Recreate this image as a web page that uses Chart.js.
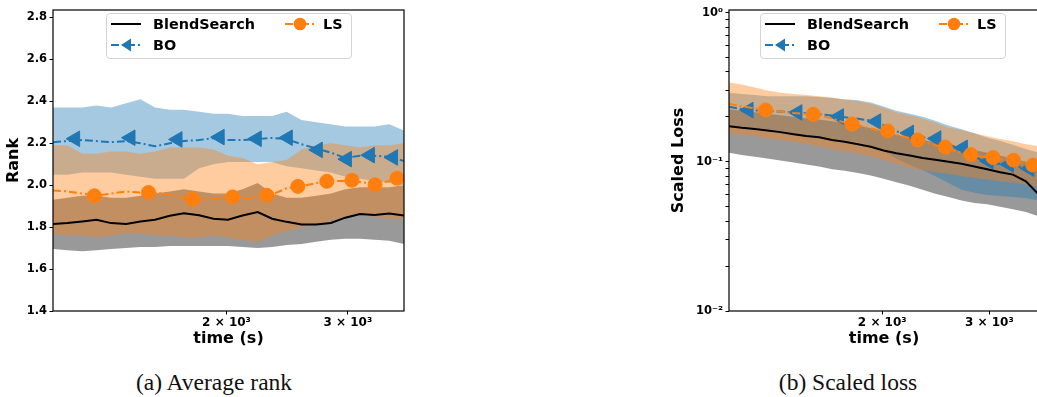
<!DOCTYPE html>
<html>
<head>
<meta charset="utf-8">
<script src="https://cdn.jsdelivr.net/npm/chart.js@4.4.0/dist/chart.umd.min.js"></script>
<style>
  html, body { margin: 0; padding: 0; background: #fff; }
  body { width: 1037px; height: 397px; overflow: hidden; position: relative; font-family: 'DejaVu Sans', sans-serif; }
  canvas { position: absolute; top: 0; }
  .legend { position: absolute; top: 13px; width: 246px; height: 46px; box-sizing: border-box;
            border: 1px solid #d4d4d4; border-radius: 4px; background: rgba(255,255,255,0.8); }
  .legend span { position: absolute; font-weight: bold; font-size: 14.4px; line-height: 18px; color: #000; white-space: nowrap; }
  .legend svg { position: absolute; overflow: visible; }
  .caption { position: absolute; top: 369px; font-family: 'Liberation Serif', serif; font-size: 23.5px;
             color: #111; transform: translateX(-50%); white-space: nowrap; }
</style>
</head>
<body>
<canvas id="rankChart" width="420" height="350" style="left:0px"></canvas>
<canvas id="lossChart" width="390" height="350" style="left:665px"></canvas>
<div class="caption" style="left:214px">(a) Average rank</div>
<div class="caption" style="left:848px">(b) Scaled loss</div>
<script>
// 공통 시간 축 (s)
const time = [1120, 1175, 1235, 1295, 1360, 1430, 1500, 1575, 1655, 1735, 1825, 1915, 2010,
              2110, 2220, 2330, 2445, 2570, 2700, 2835, 2975, 3125, 3280, 3445, 3620];
const timeTicks = [2000, 3000];
const timeTickLabels = ['2 × 10³', '3 × 10³'];

// 마커 위치
const boMarkTime = [1206, 1451, 1698, 1955, 2213, 2455, 2714, 2991, 3230, 3490];
const lsMarkTime = [1286, 1541, 1785, 2041, 2288, 2539, 2797, 3042, 3286, 3537];

// (a) Average rank
const rankTicks = [1.4, 1.6, 1.8, 2.0, 2.2, 2.4, 2.6, 2.8];
const bsRank   = [1.815, 1.819, 1.827, 1.835, 1.819, 1.815, 1.827, 1.835, 1.854, 1.866, 1.856, 1.840, 1.835,
                  1.855, 1.872, 1.840, 1.825, 1.812, 1.812, 1.820, 1.845, 1.862, 1.858, 1.865, 1.855];
const bsRankLo = [1.695, 1.69, 1.685, 1.69, 1.695, 1.70, 1.705, 1.705, 1.71, 1.71, 1.71, 1.71, 1.71,
                  1.705, 1.70, 1.705, 1.715, 1.72, 1.73, 1.74, 1.745, 1.745, 1.74, 1.735, 1.72];
const bsRankHi = [1.93, 1.94, 1.95, 1.95, 1.94, 1.94, 1.95, 1.96, 1.97, 1.98, 1.97, 1.96, 1.96,
                  1.98, 2.01, 1.96, 1.94, 1.94, 1.95, 1.96, 1.98, 1.99, 1.99, 1.99, 2.00];
const boRank   = [2.205, 2.21, 2.215, 2.21, 2.205, 2.21, 2.20, 2.185, 2.20, 2.21, 2.215, 2.225, 2.215,
                  2.215, 2.22, 2.225, 2.22, 2.195, 2.175, 2.155, 2.13, 2.14, 2.14, 2.135, 2.115];
const boRankLo = [2.05, 2.05, 2.06, 2.06, 2.06, 2.05, 2.04, 2.03, 2.03, 2.03, 2.08, 2.10, 2.11,
                  2.11, 2.11, 2.11, 2.09, 2.08, 2.07, 2.06, 2.04, 2.03, 2.02, 2.01, 2.00];
const boRankHi = [2.37, 2.37, 2.37, 2.38, 2.37, 2.39, 2.41, 2.37, 2.36, 2.36, 2.35, 2.34, 2.34,
                  2.33, 2.33, 2.33, 2.35, 2.31, 2.30, 2.29, 2.28, 2.28, 2.28, 2.29, 2.26];
const lsRank   = [1.975, 1.97, 1.96, 1.95, 1.96, 1.97, 1.965, 1.965, 1.955, 1.94, 1.93, 1.935, 1.945,
                  1.935, 1.945, 1.955, 1.985, 1.995, 2.01, 2.02, 2.02, 2.015, 2.005, 2.02, 2.035];
const lsRankLo = [1.77, 1.76, 1.76, 1.75, 1.76, 1.77, 1.77, 1.76, 1.76, 1.75, 1.75, 1.76, 1.75,
                  1.74, 1.73, 1.76, 1.78, 1.80, 1.81, 1.83, 1.85, 1.86, 1.85, 1.84, 1.84];
const lsRankHi = [2.19, 2.19, 2.15, 2.15, 2.16, 2.16, 2.15, 2.16, 2.18, 2.18, 2.18, 2.17, 2.14,
                  2.13, 2.10, 2.11, 2.12, 2.17, 2.19, 2.20, 2.19, 2.18, 2.19, 2.19, 2.20];
const boRankMark = [2.221, 2.226, 2.218, 2.229, 2.221, 2.226, 2.168, 2.124, 2.143, 2.132];
const lsRankMark = [1.949, 1.965, 1.933, 1.944, 1.952, 1.994, 2.018, 2.023, 2.002, 2.033];

// (b) Scaled loss
const lossTicks = [0.01, 0.1, 1];
const lossTickLabels = ['10⁻²', '10⁻¹', '10⁰'];
const lossMinor = [0.02, 0.03, 0.04, 0.05, 0.06, 0.07, 0.08, 0.09, 0.2, 0.3, 0.4, 0.5, 0.6, 0.7, 0.8, 0.9];
const bsLoss   = [0.173, 0.169, 0.166, 0.162, 0.158, 0.153, 0.149, 0.146, 0.140, 0.136, 0.131, 0.126, 0.119,
                  0.114, 0.110, 0.106, 0.103, 0.100, 0.097, 0.093, 0.089, 0.085, 0.082, 0.074, 0.060];
const bsLossLo = [0.115, 0.111, 0.108, 0.105, 0.102, 0.099, 0.096, 0.093, 0.089, 0.087, 0.084, 0.081, 0.077,
                  0.073, 0.069, 0.065, 0.061, 0.058, 0.055, 0.053, 0.052, 0.050, 0.048, 0.046, 0.043];
const bsLossHi = [0.225, 0.22, 0.215, 0.21, 0.205, 0.2, 0.196, 0.192, 0.187, 0.182, 0.176, 0.168, 0.16,
                  0.152, 0.146, 0.14, 0.135, 0.13, 0.125, 0.12, 0.115, 0.11, 0.105, 0.1, 0.09];
const boLoss   = [0.234, 0.225, 0.221, 0.219, 0.217, 0.215, 0.212, 0.208, 0.204, 0.199, 0.194, 0.189, 0.176,
                  0.160, 0.151, 0.146, 0.141, 0.131, 0.121, 0.108, 0.099, 0.097, 0.094, 0.090, 0.085];
const boLossLo = [0.175, 0.17, 0.166, 0.162, 0.158, 0.154, 0.15, 0.147, 0.143, 0.139, 0.135, 0.128, 0.118,
                  0.105, 0.095, 0.088, 0.080, 0.072, 0.065, 0.062, 0.060, 0.059, 0.058, 0.057, 0.055];
const boLossHi = [0.29, 0.285, 0.28, 0.275, 0.275, 0.275, 0.275, 0.272, 0.268, 0.262, 0.258, 0.25, 0.235,
                  0.22, 0.21, 0.2, 0.188, 0.175, 0.165, 0.155, 0.145, 0.138, 0.13, 0.122, 0.115];
const lsLoss   = [0.245, 0.235, 0.228, 0.222, 0.217, 0.212, 0.209, 0.205, 0.195, 0.183, 0.176, 0.167, 0.160,
                  0.152, 0.144, 0.137, 0.129, 0.122, 0.115, 0.110, 0.107, 0.104, 0.1025, 0.097, 0.094];
const lsLossLo = [0.155, 0.152, 0.148, 0.144, 0.14, 0.136, 0.132, 0.127, 0.122, 0.117, 0.113, 0.109, 0.103,
                  0.097, 0.091, 0.088, 0.085, 0.083, 0.08, 0.078, 0.076, 0.074, 0.073, 0.07, 0.068];
const lsLossHi = [0.34, 0.33, 0.315, 0.30, 0.29, 0.285, 0.28, 0.275, 0.27, 0.26, 0.255, 0.245, 0.23,
                  0.215, 0.205, 0.195, 0.183, 0.17, 0.163, 0.155, 0.148, 0.142, 0.137, 0.131, 0.127];
const boLossMark = [0.222, 0.214, 0.201, 0.186, 0.156, 0.143, 0.124, 0.101, 0.096, 0.090];
const lsLossMark = [0.2224, 0.208, 0.179, 0.161, 0.140, 0.1256, 0.112, 0.1067, 0.1025, 0.095];

const BLUE = '#1f77b4';
const ORANGE = '#ff7f0e';
const FONT = 'DejaVu Sans';
const DASHDOT = [8, 3, 2, 3];

function pts(xs, ys) {
  return xs.map(function (x, i) { return { x: x, y: ys[i] }; });
}

// 평균 ± 범위 영역 (order 가 클수록 먼저 그려짐)
function band(hi, lo, color, order) {
  return [
    { data: pts(time, hi), borderColor: 'transparent', borderWidth: 0, pointRadius: 0,
      fill: '+1', backgroundColor: color, order: order },
    { data: pts(time, lo), borderColor: 'transparent', borderWidth: 0, pointRadius: 0,
      fill: false, order: order },
  ];
}

function line(ys, color, dash, order) {
  return { data: pts(time, ys), borderColor: color, borderWidth: 2, borderDash: dash,
           pointRadius: 0, fill: false, tension: 0, order: order };
}

function markers(xs, ys, color, style, radius, order) {
  return { data: pts(xs, ys), showLine: false, pointStyle: style,
           pointRotation: style === 'triangle' ? -90 : 0, pointRadius: radius,
           pointBackgroundColor: color, pointBorderColor: color, pointBorderWidth: 1, order: order };
}

function buildDatasets(bs, bsLo, bsHi, bo, boLo, boHi, ls, lsLo, lsHi, boMark, lsMark) {
  return []
    .concat(band(bsHi, bsLo, 'rgba(0, 0, 0, 0.4)', 12))
    .concat(band(boHi, boLo, 'rgba(31, 119, 180, 0.4)', 11))
    .concat(band(lsHi, lsLo, 'rgba(255, 127, 14, 0.4)', 10))
    .concat([
      line(bs, '#000', [], 4),
      line(bo, BLUE, DASHDOT, 3),
      markers(boMarkTime, boMark, BLUE, 'triangle', 9, 2),
      line(ls, ORANGE, DASHDOT, 1),
      markers(lsMarkTime, lsMark, ORANGE, 'circle', 7, 0),
    ]);
}

// 축 테두리 (네 면)
const framePlugin = {
  id: 'frame',
  afterDraw(chart) {
    const ctx = chart.ctx;
    const a = chart.chartArea;
    ctx.save();
    ctx.strokeStyle = '#000';
    ctx.lineWidth = 1.2;
    ctx.strokeRect(a.left, a.top, a.right - a.left, a.bottom - a.top);
    ctx.restore();
  },
};

const tickGrid = {
  display: true, drawOnChartArea: false, drawTicks: true,
  tickLength: 3.5, tickColor: '#000', tickWidth: 1,
};

function xScale() {
  return {
    type: 'logarithmic',
    min: 1120,
    max: 3620,
    grid: tickGrid,
    border: { display: false },
    afterBuildTicks: function (s) { s.ticks = timeTicks.map(function (v) { return { value: v }; }); },
    afterFit: function (s) { s.height = 39; s.paddingLeft = 0; s.paddingRight = 0; },
    ticks: {
      autoSkip: false, maxRotation: 0, padding: 1, color: '#000',
      font: { family: FONT, size: 12, weight: 'bold' },
      callback: function (v) { return timeTickLabels[timeTicks.indexOf(v)]; },
    },
    title: { display: true, text: 'time (s)', color: '#000', padding: { top: 2, bottom: 2 },
             font: { family: FONT, size: 16, weight: 'bold' } },
  };
}

function yTitle(text) {
  return { display: true, text: text, color: '#000', padding: { top: 4, bottom: 4 },
           font: { family: FONT, size: 16, weight: 'bold' } };
}

const rankChart = new Chart(document.getElementById('rankChart'), {
  type: 'line',
  data: { datasets: buildDatasets(bsRank, bsRankLo, bsRankHi, boRank, boRankLo, boRankHi,
                                  lsRank, lsRankLo, lsRankHi, boRankMark, lsRankMark) },
  options: {
    responsive: false,
    animation: false,
    layout: { padding: { left: 0, top: 5, right: 16, bottom: 0 } },
    plugins: { legend: { display: false }, tooltip: { enabled: false } },
    scales: {
      x: xScale(),
      y: {
        type: 'linear',
        min: 1.4,
        max: 2.835,
        grid: tickGrid,
        border: { display: false },
        afterBuildTicks: function (s) { s.ticks = rankTicks.map(function (v) { return { value: v }; }); },
        afterFit: function (s) { s.width = 53; s.paddingTop = 0; s.paddingBottom = 0; },
        ticks: {
          autoSkip: false, padding: 2.5, color: '#000',
          font: { family: FONT, size: 11.5, weight: 'bold' },
          callback: function (v) { return Number(v).toFixed(1); },
        },
        title: yTitle('Rank'),
      },
    },
  },
  plugins: [framePlugin],
});

const lossChart = new Chart(document.getElementById('lossChart'), {
  type: 'line',
  data: { datasets: buildDatasets(bsLoss, bsLossLo, bsLossHi, boLoss, boLossLo, boLossHi,
                                  lsLoss, lsLossLo, lsLossHi, boLossMark, lsLossMark) },
  options: {
    responsive: false,
    animation: false,
    layout: { padding: { left: 0, top: 5, right: 16, bottom: 0 } },
    plugins: { legend: { display: false }, tooltip: { enabled: false } },
    scales: {
      x: xScale(),
      y: {
        type: 'logarithmic',
        min: 0.01,
        max: 1.04,
        grid: tickGrid,
        border: { display: false },
        afterBuildTicks: function (s) {
          s.ticks = lossTicks.concat(lossMinor).sort(function (a, b) { return a - b; })
            .map(function (v) { return { value: v }; });
        },
        afterFit: function (s) { s.width = 64; s.paddingTop = 0; s.paddingBottom = 0; },
        ticks: {
          autoSkip: false, padding: 2.5, color: '#000',
          font: { family: FONT, size: 11.5, weight: 'bold' },
          callback: function (v) {
            const i = lossTicks.indexOf(v);
            return i >= 0 ? lossTickLabels[i] : '';
          },
        },
        title: yTitle('Scaled Loss'),
      },
    },
  },
  plugins: [framePlugin],
});

// 범례 (matplotlib 스타일, 2열)
const legendEntries = [
  { label: 'BlendSearch', col: 0, row: 0, color: '#000', dash: '', marker: null },
  { label: 'BO', col: 0, row: 1, color: BLUE, dash: '8 3 2 3', marker: 'tri' },
  { label: 'LS', col: 1, row: 0, color: ORANGE, dash: '8 3 2 3', marker: 'circle' },
];

function buildLegend(left) {
  const box = document.createElement('div');
  box.className = 'legend';
  box.style.left = left + 'px';
  legendEntries.forEach(function (e) {
    const hx = e.col === 0 ? 4 : 178;
    const tx = e.col === 0 ? 46 : 216;
    const cy = e.row === 0 ? 10 : 31;
    let mk = '';
    if (e.marker === 'tri') {
      mk = '<polygon points="10,8 20,1.5 20,14.5" fill="' + e.color + '"/>';
    } else if (e.marker === 'circle') {
      mk = '<circle cx="15" cy="8" r="6.3" fill="' + e.color + '"/>';
    }
    box.insertAdjacentHTML('beforeend',
      '<svg width="30" height="16" style="left:' + hx + 'px;top:' + (cy - 8) + 'px">' +
      '<line x1="0" y1="8" x2="30" y2="8" stroke="' + e.color + '" stroke-width="2"' +
      (e.dash ? ' stroke-dasharray="' + e.dash + '"' : '') + '/>' + mk + '</svg>' +
      '<span style="left:' + tx + 'px;top:' + (cy - 9) + 'px">' + e.label + '</span>');
  });
  document.body.appendChild(box);
}

buildLegend(106);
buildLegend(760);
</script>
</body>
</html>
